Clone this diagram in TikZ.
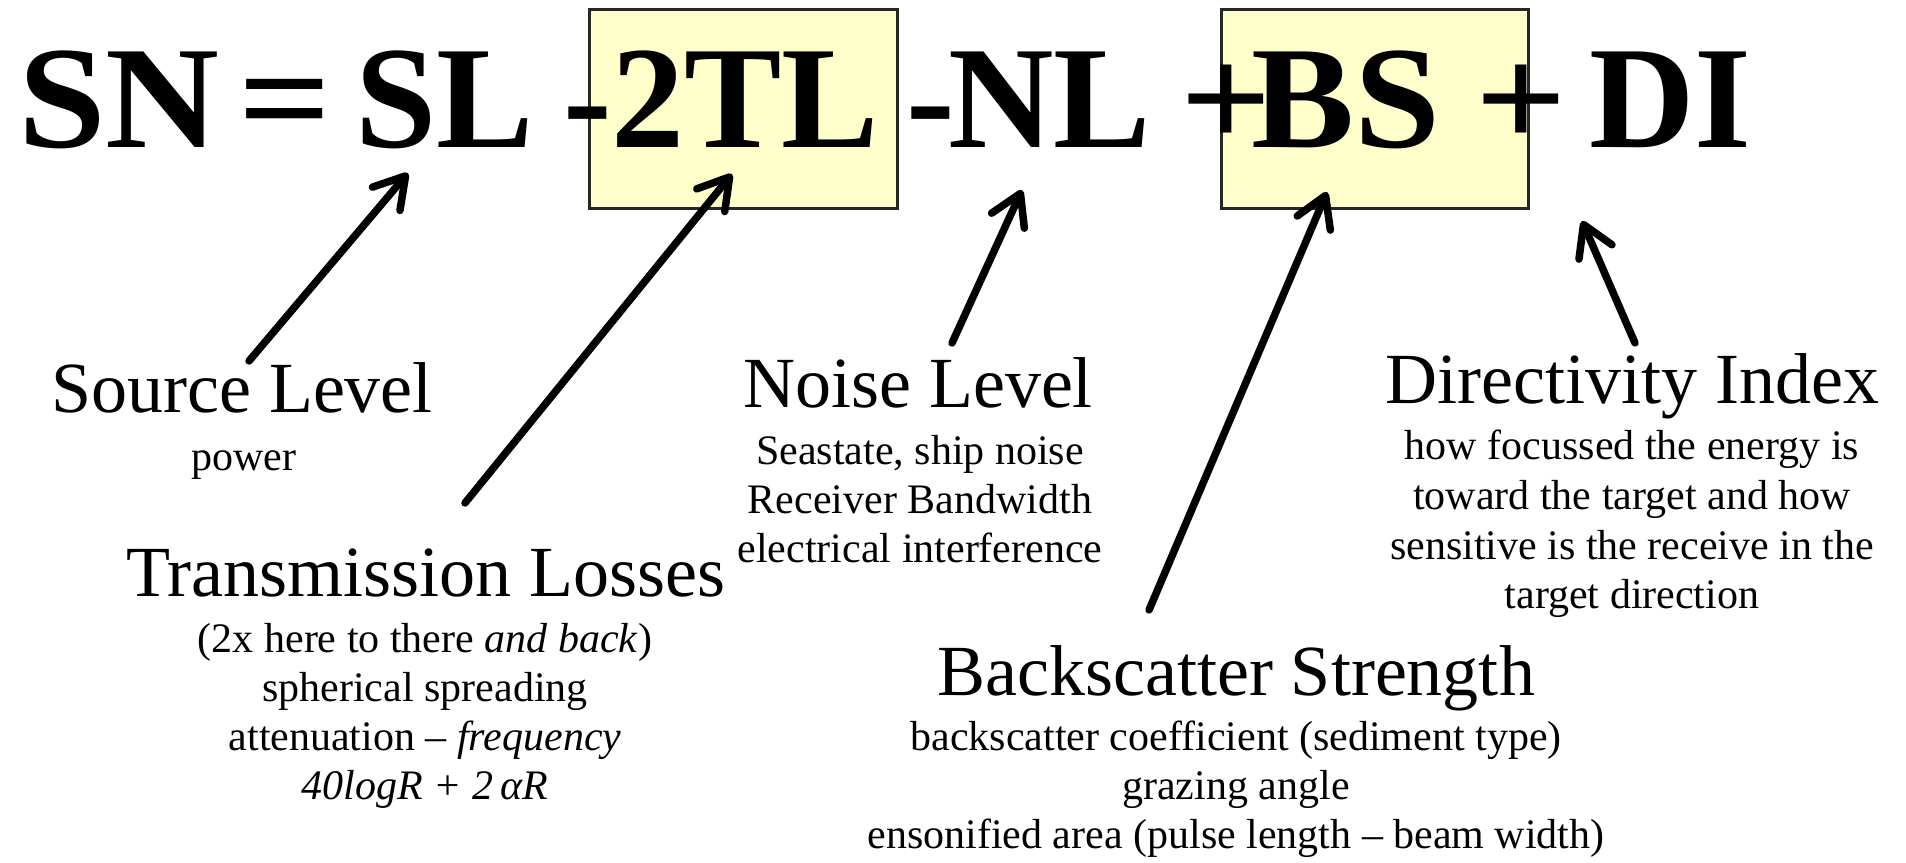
\documentclass[tikz,border=0pt]{standalone}
\usepackage{fontspec}
\setmainfont{Liberation Serif}
\usetikzlibrary{arrows.meta}
\definecolor{hl}{HTML}{FFFFCC}
\begin{document}
\begin{tikzpicture}[x=1pt,y=-1pt,
  eq/.style={anchor=base west, inner sep=0pt, font=\fontsize{146}{146}\selectfont\bfseries},
  ttl/.style={anchor=base, inner sep=0pt, font=\fontsize{72}{72}\selectfont},
  sub/.style={anchor=base, inner sep=0pt, font=\fontsize{42}{49}\selectfont},
  hbox/.style={draw=black!85, line width=2.5pt, fill=hl, anchor=north west, inner sep=0pt},
  arr/.style={line width=7.5pt, line cap=round, -{Straight Barb[length=30pt,width=36pt,round]}}]
\fill[white] (0,0) rectangle (1906,862);
\useasboundingbox (0,0) rectangle (1906,862);
% highlight boxes
\node[hbox, minimum width=308pt, minimum height=199pt] (box1) at (588,8) {};
\node[hbox, minimum width=307pt, minimum height=199pt] (box2) at (1220,8) {};
% equation
\node[eq] (sn) at (18,147) {\scalebox{1.08}[1]{SN}};
\node[eq] (eqs) at (238,147) {\scalebox{1.12}[1]{=}};
\node[eq] (sl) at (355,147) {SL};
\node[eq] (m1) at (563,147) {-};
\node[eq] (tl) at (611,147) {2TL};
\node[eq] (m2) at (906,147) {-};
\node[eq] (nl) at (948,147) {NL};
\node[eq] (p1) at (1180,147) {\scalebox{1.1}[1]{+}};
\node[eq] (bs) at (1251,147) {\scalebox{1.06}[1]{BS}};
\node[eq] (p2) at (1475,147) {\scalebox{1.1}[1]{+}};
\node[eq] (di) at (1589,147) {DI};
% Source Level
\node[ttl] (slT) at (242,412) {Source Level};
\node[sub] (slS) at (244,470) {power};
% Transmission Losses
\node[ttl] (tlT) at (426,596) {Transmission Losses};
\node[sub] (tlS1) at (425,652) {(2x here to there \textit{and back})};
\node[sub] (tlS2) at (425,701) {spherical spreading};
\node[sub] (tlS3) at (425,750) {attenuation – \textit{frequency}};
\node[sub] (tlS4) at (425,799) {\textit{40logR + 2\,αR}};
% Noise Level
\node[ttl] (nlT) at (918,407) {Noise Level};
\node[sub] (nlS1) at (920,464) {Seastate, ship noise};
\node[sub] (nlS2) at (920,513) {Receiver Bandwidth};
\node[sub] (nlS3) at (920,562) {electrical interference};
% Directivity Index
\node[ttl] (diT) at (1632,403) {Directivity Index};
\node[sub] (diS1) at (1632,459) {how focussed the energy is};
\node[sub] (diS2) at (1632,509) {toward the target and how};
\node[sub] (diS3) at (1632,559) {sensitive is the receive in the};
\node[sub] (diS4) at (1632,608) {target direction};
% Backscatter Strength
\node[ttl] (bsT) at (1236,695) {Backscatter Strength};
\node[sub] (bsS1) at (1236,750) {backscatter coefficient (sediment type)};
\node[sub] (bsS2) at (1236,799) {grazing angle};
\node[sub] (bsS3) at (1236,848) {ensonified area (pulse length – beam width)};
% arrow end points
\coordinate (slA) at (249,361);  \coordinate (slB) at (408,173);
\coordinate (tlA) at (465,503);  \coordinate (tlB) at (732,174);
\coordinate (nlA) at (952,343);  \coordinate (nlB) at (1022,190);
\coordinate (bsA) at (1149,610); \coordinate (bsB) at (1327,192);
\coordinate (diA) at (1635,343); \coordinate (diB) at (1582,221);
\draw[arr] (slA) -- (slB);
\draw[arr] (tlA) -- (tlB);
\draw[arr] (nlA) -- (nlB);
\draw[arr] (bsA) -- (bsB);
\draw[arr] (diA) -- (diB);
\end{tikzpicture}
\end{document}
